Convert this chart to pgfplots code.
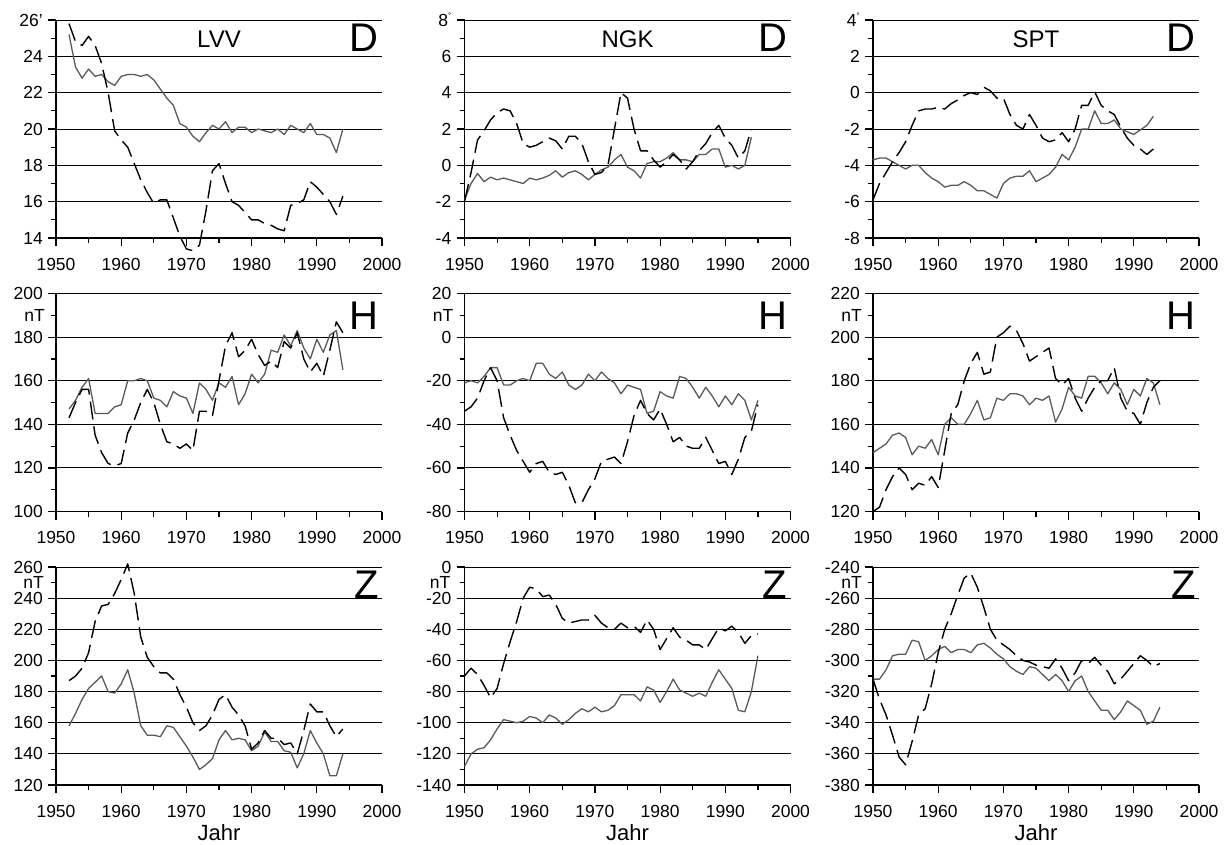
\documentclass[border=0pt]{standalone}
\usepackage{pgfplots}
\usepackage{pgfplotstable}
\usepackage{fontspec}
\setmainfont{Liberation Sans}
\usepgfplotslibrary{groupplots}
\pgfplotsset{compat=1.18}

\pgfplotstableread{
yr s d
1952 25.2 25.8
1953 23.4 24.8
1954 22.8 24.6
1955 23.3 25.1
1956 22.9 24.6
1957 23.0 23.6
1958 22.6 22.0
1959 22.4 19.9
1960 22.9 19.4
1961 23.0 19.0
1962 23.0 18.1
1963 22.9 17.2
1964 23.0 16.5
1965 22.7 15.9
1966 22.2 16.1
1967 21.7 16.1
1968 21.3 15.1
1969 20.3 14.1
1970 20.1 13.4
1971 19.6 13.3
1972 19.3 13.6
1973 19.8 15.5
1974 20.2 17.7
1975 20.0 18.1
1976 20.4 17.0
1977 19.8 16.0
1978 20.1 15.8
1979 20.1 15.4
1980 19.8 15.0
1981 20.0 15.0
1982 19.9 14.8
1983 19.8 14.7
1984 20.0 14.5
1985 19.7 14.4
1986 20.2 15.8
1987 20.0 15.9
1988 19.8 16.1
1989 20.3 17.1
1990 19.7 16.8
1991 19.7 16.4
1992 19.5 16.0
1993 18.7 15.3
1994 20.0 16.3
}\lvvD

\pgfplotstableread{
yr s d
1950 -1.9 -2.0
1951 -1.0 -0.4
1952 -0.45 1.4
1953 -0.9 1.9
1954 -0.65 2.5
1955 -0.8 2.9
1956 -0.7 3.1
1957 -0.8 3.0
1958 -0.9 2.3
1959 -1.0 1.2
1960 -0.7 1.0
1961 -0.8 1.1
1962 -0.7 1.3
1963 -0.55 1.5
1964 -0.3 1.35
1965 -0.65 0.9
1966 -0.4 1.6
1967 -0.3 1.6
1968 -0.5 1.2
1969 -0.8 0.2
1970 -0.5 -0.5
1971 -0.25 -0.4
1972 -0.1 0.0
1973 0.3 2.0
1974 0.6 4.0
1975 -0.1 3.7
1976 -0.3 2.0
1977 -0.7 0.8
1978 0.1 0.8
1979 0.2 0.3
1980 0.2 -0.1
1981 0.4 0.2
1982 0.7 0.6
1983 0.3 0.3
1984 0.3 -0.2
1985 0.2 0.2
1986 0.6 0.8
1987 0.6 1.2
1988 0.9 1.8
1989 0.9 2.2
1990 -0.1 1.5
1991 0.0 1.1
1992 -0.2 0.4
1993 0.0 0.8
1994 1.55 2.0
}\ngkD

\pgfplotstableread{
yr s d
1950 -3.7 -5.9
1951 -3.6 -5.0
1952 -3.6 -4.4
1953 -3.8 -3.8
1954 -4.0 -3.3
1955 -4.2 -2.7
1956 -4.0 -1.8
1957 -4.0 -1.0
1958 -4.4 -0.9
1959 -4.7 -0.9
1960 -4.9 -0.8
1961 -5.2 -0.9
1962 -5.1 -0.6
1963 -5.1 -0.4
1964 -4.9 -0.15
1965 -5.1 0.0
1966 -5.4 -0.1
1967 -5.4 0.3
1968 -5.6 0.1
1969 -5.8 -0.3
1970 -5.0 -0.3
1971 -4.7 -1.2
1972 -4.6 -1.8
1973 -4.6 -2.0
1974 -4.3 -1.2
1975 -4.9 -1.8
1976 -4.7 -2.5
1977 -4.5 -2.7
1978 -4.1 -2.6
1979 -3.4 -2.2
1980 -3.7 -2.7
1981 -3.0 -2.0
1982 -2.0 -0.7
1983 -2.0 -0.7
1984 -1.0 0.05
1985 -1.7 -0.7
1986 -1.7 -1.0
1987 -1.5 -1.2
1988 -2.0 -1.9
1989 -2.15 -2.5
1990 -2.3 -2.9
1991 -2.05 -3.1
1992 -1.8 -3.4
1993 -1.3 -3.1
}\sptD

\pgfplotstableread{
yr s d
1952 147 143
1953 151 150
1954 157 156
1955 161 156
1956 145 135
1957 145 127
1958 145 122
1959 148 121
1960 149 122
1961 160 136
1962 160 142
1963 161 150
1964 160 156
1965 152 150
1966 151 140
1967 148 132
1968 155 131
1969 153 129
1970 152 131
1971 145 128
1972 159 146
1973 156 146
1974 151 144
1975 159 160
1976 157 176
1977 162 182
1978 149 171
1979 154 174
1980 163 179
1981 159 172
1982 163 167
1983 174 169
1984 173 166
1985 181 178
1986 176 175
1987 183 182
1988 175 170
1989 170 164
1990 179 168
1991 173 162
1992 181 174
1993 183 187
1994 165 182
}\lvvH

\pgfplotstableread{
yr s d
1950 -21 -34
1951 -20 -32
1952 -21 -28
1953 -18 -20
1954 -14 -14
1955 -14 -20
1956 -22 -37
1957 -22 -45
1958 -20 -52
1959 -19 -57
1960 -20 -62
1961 -12 -58
1962 -12 -57
1963 -17 -62
1964 -19 -63
1965 -16 -62
1966 -22 -68
1967 -24 -76
1968 -22 -76
1969 -17 -70
1970 -20 -65
1971 -16 -57
1972 -19 -56
1973 -21 -55
1974 -26 -58
1975 -22 -48
1976 -23 -36
1977 -24 -29
1978 -35 -35
1979 -34 -38
1980 -25 -33
1981 -27 -40
1982 -28 -48
1983 -18 -46
1984 -19 -50
1985 -23 -51
1986 -28 -51
1987 -23 -46
1988 -27 -52
1989 -32 -58
1990 -27 -57
1991 -31 -63
1992 -26 -56
1993 -29 -46
1994 -38 -43
1995 -29 -31
}\ngkH

\pgfplotstableread{
yr s d
1950 147 120
1951 149 122
1952 151 130
1953 155 136
1954 156 140
1955 154 137
1956 146 130
1957 150 133
1958 149 132
1959 153 136
1960 146 131
1961 160 148
1962 163 165
1963 160 169
1964 160 180
1965 165 188
1966 171 193
1967 162 183
1968 163 184
1969 172 200
1970 171 202
1971 174 205
1972 174 203
1973 173 197
1974 169 189
1975 172 191
1976 171 193
1977 173 195
1978 161 181
1979 167 178
1980 177 181
1981 173 172
1982 172 166
1983 182 172
1984 182 177
1985 179 180
1986 174 180
1987 179 186
1988 176 172
1989 169 166
1990 176 165
1991 173 160
1992 181 170
1993 179 177
1994 169 180
}\sptH

\pgfplotstableread{
yr s d
1952 158 187
1953 166 190
1954 175 195
1955 182 205
1956 186 225
1957 190 235
1958 180 236
1959 179 243
1960 185 252
1961 194 262
1962 179 243
1963 158 215
1964 152 202
1965 152 196
1966 151 192
1967 158 192
1968 157 188
1969 151 178
1970 145 170
1971 138 160
1972 130 155
1973 133 158
1974 137 165
1975 149 175
1976 155 178
1977 149 170
1978 150 165
1979 149 158
1980 142 143
1981 145 147
1982 154 155
1983 148 150
1984 148 150
1985 142 146
1986 141 147
1987 131 140
1988 140 155
1989 155 172
1990 147 167
1991 140 167
1992 126 158
1993 126 151
1994 140 156
}\lvvZ

\pgfplotstableread{
yr s d
1950 -128 -70
1951 -120 -65
1952 -117 -69
1953 -116 -76
1954 -111 -84
1955 -104 -78
1956 -98 -62
1957 -99 -48
1958 -100 -35
1959 -99 -20
1960 -96 -13
1961 -97 -14
1962 -100 -19
1963 -95 -18
1964 -97 -24
1965 -101 -33
1966 -98 -36
1967 -94 -35
1968 -91 -34
1969 -93 -34
1970 -90 -31
1971 -93 -36
1972 -92 -39
1973 -89 -40
1974 -82 -36
1975 -82 -39
1976 -82 -38
1977 -86 -42
1978 -77 -34
1979 -79 -40
1980 -87 -53
1981 -80 -46
1982 -72 -39
1983 -79 -45
1984 -81 -47
1985 -83 -50
1986 -81 -50
1987 -83 -53
1988 -74 -46
1989 -66 -39
1990 -72 -41
1991 -78 -38
1992 -92 -42
1993 -93 -49
1994 -80 -44
1995 -57 -43
}\ngkZ

\pgfplotstableread{
yr s d
1950 -312 -312
1951 -312 -325
1952 -306 -335
1953 -297 -348
1954 -296 -362
1955 -296 -367
1956 -287 -352
1957 -288 -335
1958 -300 -331
1959 -297 -315
1960 -293 -295
1961 -291 -280
1962 -295 -270
1963 -293 -258
1964 -293 -247
1965 -295 -244
1966 -290 -253
1967 -289 -266
1968 -292 -280
1969 -296 -287
1970 -299 -290
1971 -304 -293
1972 -307 -297
1973 -309 -300
1974 -304 -301
1975 -305 -303
1976 -309 -304
1977 -313 -305
1978 -309 -299
1979 -313 -305
1980 -320 -313
1981 -313 -308
1982 -310 -300
1983 -320 -302
1984 -326 -298
1985 -332 -303
1986 -332 -307
1987 -338 -315
1988 -333 -312
1989 -326 -307
1990 -329 -302
1991 -332 -297
1992 -341 -300
1993 -339 -304
1994 -330 -302
}\sptZ

\definecolor{solidgray}{RGB}{90,90,90}
\newcommand{\tickfont}{\fontsize{17.5}{17.5}\selectfont}
\newcommand{\degmark}{\raisebox{0.9ex}{\fontsize{8}{8}\selectfont°}}
\tikzset{
  solidline/.style={color=solidgray, line width=1.3pt, line join=round},
  dashline/.style={color=black, line width=1.4pt, dash pattern=on 18pt off 7pt, line join=round},
  stn/.style={font=\fontsize{24}{24}\selectfont, inner sep=0pt},
  lett/.style={font=\fontsize{40}{40}\selectfont, inner sep=0pt, anchor=east},
  nt/.style={font=\tickfont, inner sep=0pt, anchor=east},
  jahr/.style={font=\fontsize{22}{22}\selectfont, inner sep=0pt},
}
\begin{document}
\begin{tikzpicture}
\begin{groupplot}[
  group style={group size=3 by 3, horizontal sep=82.5pt, vertical sep=55.5pt},
  scale only axis, width=326pt, height=218pt,
  xmin=1950, xmax=2000,
  xtick={1950,1960,...,2000},
  xticklabels={1950,1960,1970,1980,1990,2000},
  minor xtick={1955,1965,...,1995},
  axis x line*=bottom, axis y line*=left,
  axis line style={-, line width=1.5pt},
  tick align=outside,
  major tick length=8pt, minor tick length=5pt,
  every tick/.style={black, line width=1.2pt},
  minor y tick num=1,
  ymajorgrids,
  major grid style={black, line width=0.9pt},
  tick label style={font=\tickfont, inner sep=0pt},
  xticklabel style={yshift=-12pt},
  yticklabel style={xshift=-5pt},
  clip=false,
]
\nextgroupplot[ymin=14, ymax=26, ytick={14,16,...,26}, yticklabels={14,16,18,20,22,24,26’}]
\coordinate (tl) at (rel axis cs:0,1);
\addplot[solidline] table[x=yr, y=s] {\lvvD};
\addplot[dashline] table[x=yr, y=d] {\lvvD};
\node[stn] at (rel axis cs:0.5,0.91) {LVV};
\node[lett] at (rel axis cs:0.99,0.92) {D};

\nextgroupplot[ymin=-4, ymax=8, ytick={-4,-2,...,8}, yticklabels={-4,-2,0,2,4,6,8\degmark}]
\addplot[solidline] table[x=yr, y=s] {\ngkD};
\addplot[dashline] table[x=yr, y=d] {\ngkD};
\node[stn] at (rel axis cs:0.5,0.91) {NGK};
\node[lett] at (rel axis cs:0.99,0.92) {D};

\nextgroupplot[ymin=-8, ymax=4, ytick={-8,-6,...,4}, yticklabels={-8,-6,-4,-2,0,2,4\degmark}]
\addplot[solidline] table[x=yr, y=s] {\sptD};
\addplot[dashline] table[x=yr, y=d] {\sptD};
\node[stn] at (rel axis cs:0.5,0.91) {SPT};
\node[lett] at (rel axis cs:0.99,0.92) {D};

\nextgroupplot[ymin=100, ymax=200, ytick={100,120,...,200}, yticklabels={100,120,140,160,180,200}]
\addplot[solidline] table[x=yr, y=s] {\lvvH};
\addplot[dashline] table[x=yr, y=d] {\lvvH};
\node[lett] at (rel axis cs:0.99,0.90) {H};
\node[nt] at ([xshift=-11pt,yshift=-22pt]rel axis cs:0,1) {nT};

\nextgroupplot[ymin=-80, ymax=20, ytick={-80,-60,...,20}, yticklabels={-80,-60,-40,-20,0,20}]
\addplot[solidline] table[x=yr, y=s] {\ngkH};
\addplot[dashline] table[x=yr, y=d] {\ngkH};
\node[lett] at (rel axis cs:0.99,0.90) {H};
\node[nt] at ([xshift=-11pt,yshift=-22pt]rel axis cs:0,1) {nT};

\nextgroupplot[ymin=120, ymax=220, ytick={120,140,...,220}, yticklabels={120,140,160,180,200,220}]
\addplot[solidline] table[x=yr, y=s] {\sptH};
\addplot[dashline] table[x=yr, y=d] {\sptH};
\node[lett] at (rel axis cs:0.99,0.90) {H};
\node[nt] at ([xshift=-11pt,yshift=-22pt]rel axis cs:0,1) {nT};

\nextgroupplot[ymin=120, ymax=260, ytick={120,140,...,260}, yticklabels={120,140,160,180,200,220,240,260}]
\addplot[solidline] table[x=yr, y=s] {\lvvZ};
\addplot[dashline] table[x=yr, y=d] {\lvvZ};
\node[lett] at (rel axis cs:0.99,0.917) {Z};
\node[nt] at ([xshift=-12pt,yshift=-15pt]rel axis cs:0,1) {nT};
\node[jahr] at ([yshift=-48pt]rel axis cs:0.5,0) {Jahr};

\nextgroupplot[ymin=-140, ymax=0, ytick={-140,-120,...,0}, yticklabels={-140,-120,-100,-80,-60,-40,-20,0}]
\addplot[solidline] table[x=yr, y=s] {\ngkZ};
\addplot[dashline] table[x=yr, y=d] {\ngkZ};
\node[lett] at (rel axis cs:0.99,0.917) {Z};
\node[nt] at ([xshift=-14pt,yshift=-15pt]rel axis cs:0,1) {nT};
\node[jahr] at ([yshift=-48pt]rel axis cs:0.5,0) {Jahr};

\nextgroupplot[ymin=-380, ymax=-240, ytick={-380,-360,...,-240}, yticklabels={-380,-360,-340,-320,-300,-280,-260,-240}]
\addplot[solidline] table[x=yr, y=s] {\sptZ};
\addplot[dashline] table[x=yr, y=d] {\sptZ};
\node[lett] at (rel axis cs:0.99,0.917) {Z};
\node[nt] at ([xshift=-11pt,yshift=-15pt]rel axis cs:0,1) {nT};
\node[jahr] at ([yshift=-48pt]rel axis cs:0.5,0) {Jahr};
\end{groupplot}
\pgfresetboundingbox
\path[use as bounding box] ([shift={(-56pt,20pt)}]tl) rectangle ([shift={(1172pt,-824pt)}]tl);
\end{tikzpicture}
\end{document}
